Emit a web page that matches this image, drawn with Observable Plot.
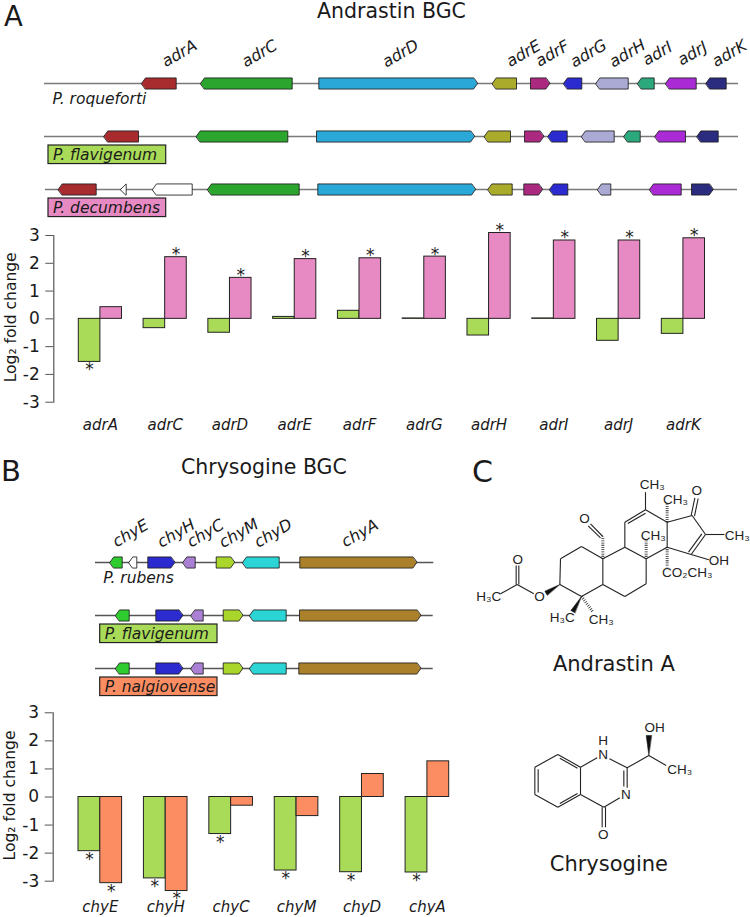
<!DOCTYPE html>
<html>
<head>
<meta charset="utf-8">
<script src="https://cdn.jsdelivr.net/npm/d3@7"></script>
<script src="https://cdn.jsdelivr.net/npm/@observablehq/plot@0.6"></script>
<style>
html,body{margin:0;padding:0;background:#fff;}
#page{position:relative;width:750px;height:917px;overflow:hidden;font-family:'DejaVu Sans';color:#1a1a1a;}
#page svg{position:absolute;overflow:visible;background:transparent;}
.t{position:absolute;line-height:.85;white-space:nowrap;}
</style>
</head>
<body>
<div id="page"></div>
<script>
// ---------- expression data (log2 fold change) ----------
const adrGenes = ["adrA","adrC","adrD","adrE","adrF","adrG","adrH","adrI","adrJ","adrK"];
const adrFlavigenum = [-1.55,-0.335,-0.50,0.07,0.29,0.015,-0.60,0.015,-0.79,-0.54];
const adrDecumbens  = [0.42,2.22,1.475,2.15,2.18,2.24,3.09,2.82,2.82,2.90];
const adrStarsFlavigenum = ["adrA"];
const adrStarsDecumbens  = ["adrC","adrD","adrE","adrF","adrG","adrH","adrI","adrJ","adrK"];

const chyGenes = ["chyE","chyH","chyC","chyM","chyD","chyA"];
const chyFlavigenum  = [-1.93,-2.90,-1.32,-2.62,-2.68,-2.69];
const chyNalgiovense = [-3.07,-3.35,-0.31,-0.68,0.82,1.27];
const chyStarsFlavigenum  = ["chyE","chyH","chyC","chyM","chyD","chyA"];
const chyStarsNalgiovense = ["chyE","chyH"];

// ---------- gene clusters: [gene, start, end, direction] ----------
const roqueforti = [["adrA",141,175.7,-1],["adrC",200,291.7,-1],["adrD",318.3,477,1],["adrE",491.7,516,-1],["adrF",530,549.3,1],["adrG",563,581.3,-1],["adrH",595.3,627.7,-1],["adrI",637,653.7,-1],["adrJ",665,695.7,-1],["adrK",705.3,725.7,-1]];
const flavigenumA = [["adrA",103.3,138,-1],["adrC",195.7,287.3,-1],["adrD",316,474,1],["adrE",483.7,510,-1],["adrF",524,543.3,1],["adrG",547.3,566.7,-1],["adrH",581,613.7,-1],["adrI",623.3,639.7,-1],["adrJ",654.3,685,-1],["adrK",696.3,717.7,-1]];
const decumbens = [["adrA",57.7,95.7,-1],["other",120,125.7,-1],["other",152,191.7,-1],["adrC",207,298.7,-1],["adrD",317.3,475,1],["adrE",487.3,511.7,-1],["adrF",523.3,542,1],["adrG",549,567.3,-1],["adrH",597,610.3,-1],["adrJ",649,680.7,-1],["adrK",691,712.7,1]];
const rubens = [["chyE",109.3,121.7,-1],["other",128.3,136.3,-1],["chyH",147.3,174.3,1],["chyC",182.3,194.7,-1],["chyM",215.7,234,1],["chyD",242,278.7,-1],["chyA",299.3,416.3,1]];
const flavigenumB = [["chyE",115,128.7,-1],["chyH",155.3,182.3,1],["chyC",190.3,202.7,-1],["chyM",222.7,242.3,1],["chyD",249,285.7,-1],["chyA",299,420.3,1]];
const nalgiovense = [["chyE",115,128.7,-1],["chyH",155.3,182.3,1],["chyC",190.3,202.7,-1],["chyM",222.7,242.3,1],["chyD",249,285.7,-1],["chyA",298.3,420.3,1]];

const geneColors = {adrA:"#a82b2e",adrC:"#2ba52e",adrD:"#2aa8d8",adrE:"#abab2b",adrF:"#ab2a80",adrG:"#2b2bd0",adrH:"#aaaad5",adrI:"#2ba87c",adrJ:"#aa2bd5",adrK:"#2b2b80",
  chyE:"#2fcc2f",chyH:"#2b2bd0",chyC:"#aa80d5",chyM:"#aad52b",chyD:"#2bd5d5",chyA:"#aa802b",other:"#ffffff"};

const adrLabelPos = [["adrA",179],["adrC",259],["adrD",400],["adrE",523],["adrF",552],["adrG",588],["adrH",627],["adrI",657],["adrJ",692],["adrK",729]];
const chyLabelPos = [["chyE",130],["chyH",175.7],["chyC",205],["chyM",238.3],["chyD",272.7],["chyA",359.3]];

const strainGreen = "#aadb58", strainPink = "#e78ac3", strainOrange = "#fc8d62";

// ---------- chemical structures (drawing units) ----------
const andrastinBonds = [[150,430,200,402],[200,402,250,430],[197,402,197,345],[205,402,205,345],
 [328,402,330,325],[330,325,393,288],[393,288,457,325],[457,325,457,402],[457,402,393,438],[393,438,328,402],
 [457,325,523,290],[523,290,587,325],[587,325,587,400],[587,400,523,438],[523,438,457,402],
 [523,290,523,215],[523,215,585,178],[532,219,585,188],[585,178,650,215],[650,215,650,290],[650,290,587,325],[585,178,585,125],
 [650,215,725,195],[725,195,765,252],[765,252,722,312],[754,250,714,305],[722,312,650,290],
 [722,195,733,142],[732,197,743,144],[765,252,822,252],[722,312,775,328],[457,258,420,220],[450,262,413,226]];
const andrastinHash = [[650,215,650,158],[650,290,650,350],[587,325,587,268],[457,325,457,258],[393,438,428,485]];
const andrastinWedges = [[[328,402],[283,422],[290,434]],[[393,438],[361,480],[373,487]]];
const andrastinAtoms = [["H₃C",115,438],["O",202,327],["O",267,438],["H₃C",335,503],["CH₃",452,507],["O",402,204],["CH₃",608,255],["CH₃",605,104],["CH₃",675,148],["O",739,122],["CH₃",860,255],["OH",805,331],["CO₂CH₃",710,368]];
const chrysogineBonds = [[103,260,172,222],[172,222,240,260],[240,260,240,342],[240,342,172,380],[172,380,103,342],[103,342,103,260],
 [113,266,113,336],[178,233,231,263],[178,369,231,339],
 [240,260,290,232],[327,235,380,262],[380,262,380,322],[370,270,370,318],[358,352,310,380],[310,380,240,342],[305,380,305,440],[315,380,315,440],
 [380,262,445,225],[445,225,497,255]];
const chrysogineWedges = [[[445,225],[437,165],[453,165]]];
const chrysogineAtoms = [["N",308,224],["H",308,180],["N",376,342],["O",308,462],["OH",462,143],["CH₃",538,267]];

// ---------- helpers ----------
const page = document.getElementById("page");
const FONT = "'DejaVu Sans'";
const place = (el, top, left = 0) => { el.style.top = top + "px"; el.style.left = left + "px"; page.appendChild(el); };
const label = (txt, left, top, size, extra = "") => {
  const d = document.createElement("div");
  d.className = "t"; d.textContent = txt;
  d.style.cssText = `left:${left}px;top:${top}px;font-size:${size}px;${extra}`;
  page.appendChild(d);
};

function arrowRows(tracks) {
  const rows = [];
  tracks.forEach((genes, lane) => genes.forEach(([gene, a, b, dir], i) => {
    const id = lane + "-" + i, h = 0.105, len = b - a, head = len < 7 ? len : 4;
    const pts = dir < 0
      ? [[a, lane], [a + head, lane - h], [b, lane - h], [b, lane + h], [a + head, lane + h]]
      : [[b, lane], [b - head, lane + h], [a, lane + h], [a, lane - h], [b - head, lane - h]];
    pts.forEach(([x, y]) => rows.push({id, gene, x, y}));
  }));
  return rows;
}

function clusterPlot({tracks, backbone, labels, labelLane, firstName, boxes, boxX, yRange, height, fontSize, backboneColor}) {
  return Plot.plot({
    width: 750, height, margin: 0,
    style: {fontFamily: FONT, background: "transparent"},
    x: {domain: [0, 750], range: [0, 750], axis: null},
    y: {domain: [0, 2], range: yRange, axis: null},
    color: {type: "identity"},
    marks: [
      Plot.ruleY(backbone, {y: "lane", x1: "from", x2: "to", stroke: backboneColor, strokeWidth: 1.3}),
      Plot.line(arrowRows(tracks), {x: "x", y: "y", z: "id", curve: "linear-closed",
        fill: d => geneColors[d.gene], stroke: "#1d1d1d", strokeWidth: 1, strokeOpacity: 0.85}),
      Plot.text(labels, {x: d => d[1], y: () => labelLane, text: d => d[0], rotate: -30,
        fontStyle: "italic", fontSize: 16, fill: "#1a1a1a"}),
      Plot.text([firstName], {x: d => d.x, y: d => d.y, text: d => d.name, textAnchor: "start",
        fontStyle: "italic", fontSize, fill: "#1a1a1a"}),
      Plot.rect(boxes, {x1: boxX[0], x2: boxX[1], y1: d => d.lane + 0.17, y2: d => d.lane + 0.52,
        fill: d => d.color, stroke: "#222", strokeWidth: 1.2}),
      Plot.text(boxes, {x: boxX[0] + 4.5, y: d => d.lane + 0.345, text: d => d.name, textAnchor: "start",
        fontStyle: "italic", fontSize, fill: "#1a1a1a"})
    ]
  });
}

function barPlot({genes, first, second, firstName, secondName, colors, starsFirst, starsSecond, range, top, bottom, height, left, labelDy}) {
  const slots = genes.flatMap((g, i) => i < genes.length - 1 ? [g + "|a", g + "|b", g + "|gap"] : [g + "|a", g + "|b"]);
  const rows = genes.flatMap((g, i) => [
    {gene: g, slot: g + "|a", strain: firstName, value: first[i], star: starsFirst.includes(g)},
    {gene: g, slot: g + "|b", strain: secondName, value: second[i], star: starsSecond.includes(g)}
  ]);
  const slotW = (range[1] - range[0]) / slots.length;
  const starred = rows.filter(d => d.star);
  return Plot.plot({
    width: 750, height, marginLeft: left, marginRight: 0, marginTop: top, marginBottom: bottom,
    style: {fontFamily: FONT, background: "transparent"},
    x: {type: "band", domain: slots, range, padding: 0, round: false, axis: null},
    y: {domain: [-3, 3], axis: null},
    color: {domain: [firstName, secondName], range: colors},
    marks: [
      Plot.frame({anchor: "left", stroke: "#555", strokeWidth: 1.2}),
      Plot.axisY({ticks: [-3,-2,-1,0,1,2,3], tickFormat: d => String(d), anchor: "left", tickSize: 8, tickPadding: 6,
        stroke: "#555", fontSize: 17, fill: "#1a1a1a", label: null}),
      Plot.text(["Log₂ fold change"], {frameAnchor: "left", textAnchor: "middle", dx: -43, dy: -1.5, rotate: -90, fontSize: 15.5, fill: "#1a1a1a"}),
      Plot.rectY(rows, {x: "slot", y1: () => 0, y2: "value", fill: "strain", stroke: "#222", strokeWidth: 1}),
      Plot.text(starred.filter(d => d.value > 0), {x: "slot", y: "value", dy: -2.5, text: () => "*", fontSize: 17, fill: "#222"}),
      Plot.text(starred.filter(d => d.value < 0), {x: "slot", y: "value", dy: 8, text: () => "*", fontSize: 17, fill: "#222"}),
      Plot.text(genes, {x: g => g + "|b", y: () => -3, dx: -slotW / 2, dy: labelDy, text: g => g,
        fontStyle: "italic", fontSize: 15, fill: "#1a1a1a"})
    ]
  });
}

function chemPlot({bonds, hash = [], wedges, atoms, caption, w, h, unit}) {
  const wedgeRows = wedges.flatMap((p, i) => p.map(([x, y]) => ({i, x, y})));
  return Plot.plot({
    width: w, height: h, margin: 0,
    style: {fontFamily: "'Liberation Sans'", background: "transparent"},
    x: {domain: [0, w * unit], range: [0, w], axis: null},
    y: {domain: [0, h * unit], range: [0, h], axis: null},
    marks: [
      Plot.link(bonds, {x1: d => d[0], y1: d => d[1], x2: d => d[2], y2: d => d[3], stroke: "#222", strokeWidth: 1.1}),
      Plot.link(hash, {x1: d => d[0], y1: d => d[1], x2: d => d[2], y2: d => d[3], stroke: "#222", strokeWidth: 3, strokeDasharray: "0.8,1.4"}),
      Plot.line(wedgeRows, {x: "x", y: "y", z: "i", curve: "linear-closed", fill: "#111", stroke: "#111", strokeWidth: 0.5}),
      Plot.text(atoms, {x: d => d[1], y: d => d[2], text: d => d[0], fontSize: 13.5, fill: "#222"}),
      Plot.text([caption], {x: d => d.x, y: d => d.y, text: d => d.text, fontFamily: FONT, fontSize: 21, fill: "#1a1a1a"})
    ]
  });
}

// ---------- panel A ----------
label("A", 4, 4.5, 27.5);
label("Andrastin BGC", 317, 3, 20.5);
place(clusterPlot({
  tracks: [roqueforti, flavigenumA, decumbens],
  backbone: [{lane:0,from:44,to:738},{lane:1,from:44,to:738},{lane:2,from:45,to:737}],
  labels: adrLabelPos, labelLane: -0.565,
  firstName: {name: "P. roqueforti", x: 52, y: 0.295},
  boxes: [{lane:1,name:"P. flavigenum",color:strainGreen},{lane:2,name:"P. decumbens",color:strainPink}],
  boxX: [48, 165.7], yRange: [53, 159], height: 195, fontSize: 15.5, backboneColor: "#7a7a7a"
}), 30);
place(barPlot({
  genes: adrGenes, first: adrFlavigenum, second: adrDecumbens,
  firstName: "P. flavigenum", secondName: "P. decumbens", colors: [strainGreen, strainPink],
  starsFirst: adrStarsFlavigenum, starsSecond: adrStarsDecumbens,
  range: [78.3, 704.5], left: 53.3, top: 15, bottom: 38.3, height: 220, labelDy: 23
}), 220);

// ---------- panel B ----------
label("B", 1, 459, 29);
label("Chrysogine BGC", 181, 459, 20.5);
place(clusterPlot({
  tracks: [rubens, flavigenumB, nalgiovense],
  backbone: [{lane:0,from:95,to:433.3},{lane:1,from:95,to:432.7},{lane:2,from:95,to:432.7}],
  labels: chyLabelPos, labelLane: -0.55,
  firstName: {name: "P. rubens", x: 102.7, y: 0.295},
  boxes: [{lane:1,name:"P. flavigenum",color:strainGreen},{lane:2,name:"P. nalgiovense",color:strainOrange}],
  boxX: [99.7, 217], yRange: [62, 168], height: 200, fontSize: 15.5, backboneColor: "#555"
}), 500);
place(barPlot({
  genes: chyGenes, first: chyFlavigenum, second: chyNalgiovense,
  firstName: "P. flavigenum", secondName: "P. nalgiovense", colors: [strainGreen, strainOrange],
  starsFirst: chyStarsFlavigenum, starsSecond: chyStarsNalgiovense,
  range: [78, 448.7], left: 52.7, top: 12.3, bottom: 36.3, height: 217, labelDy: 26
}), 700);

// ---------- panel C ----------
label("C", 472, 459, 30);
place(chemPlot({bonds: andrastinBonds, hash: andrastinHash, wedges: andrastinWedges, atoms: andrastinAtoms,
  caption: {text: "Andrastin A", x: 490, y: 640}, w: 300, h: 240, unit: 3}), 450, 450);
place(chemPlot({bonds: chrysogineBonds, wedges: chrysogineWedges, atoms: chrysogineAtoms,
  caption: {text: "Chrysogine", x: 325, y: 550}, w: 200, h: 200, unit: 3}), 680, 500);
</script>
</body>
</html>
